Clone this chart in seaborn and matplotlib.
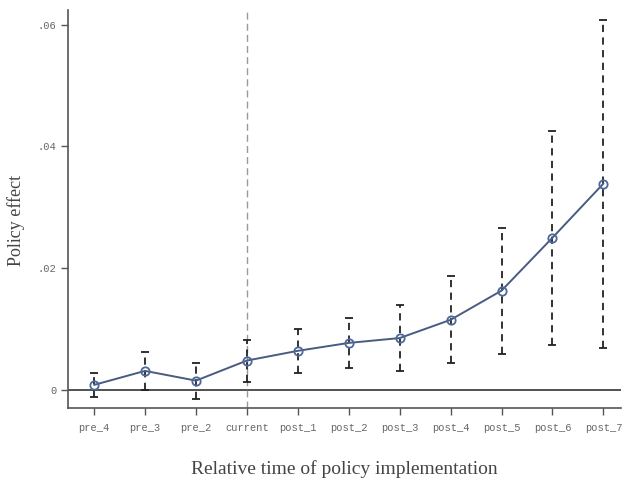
import numpy as np
import pandas as pd
import matplotlib
matplotlib.use("Agg")
import matplotlib.pyplot as plt
import seaborn as sns

periods = ["pre_4", "pre_3", "pre_2", "current", "post_1", "post_2",
           "post_3", "post_4", "post_5", "post_6", "post_7"]
coef = [0.0008, 0.0031, 0.0015, 0.0048, 0.0064, 0.0077,
        0.0085, 0.0115, 0.0163, 0.0250, 0.0339]
ci_low = [-0.0012, 0.0000, -0.0015, 0.0013, 0.0028, 0.0036,
          0.0031, 0.0044, 0.0059, 0.0074, 0.0069]
ci_high = [0.0028, 0.0062, 0.0044, 0.0082, 0.0100, 0.0118,
           0.0140, 0.0187, 0.0266, 0.0426, 0.0608]

df = pd.DataFrame({"period": periods, "coef": coef, "lo": ci_low, "hi": ci_high})
df["x"] = np.arange(len(df))

sns.set_style("ticks")
fig = plt.figure(figsize=(6.25, 4.8), dpi=100)
ax = fig.add_axes([0.109, 0.15, 0.885, 0.83])

# reference lines
ax.axhline(0, color="#333333", lw=1.2, zorder=1)
ax.axvline(3, color="#999999", lw=1.0, ls=(0, (5, 3)), zorder=1)

# confidence intervals
err = [df["coef"] - df["lo"], df["hi"] - df["coef"]]
eb = ax.errorbar(df["x"], df["coef"], yerr=err, fmt="none", ecolor="#222222",
                 elinewidth=1.3, capsize=3, capthick=1.3, zorder=2)
eb[2][0].set_linestyle((0, (4, 3)))

# point estimates
sns.lineplot(data=df, x="x", y="coef", ax=ax, color="#4a5a80", lw=1.4,
             marker="o", markersize=6, markerfacecolor="none",
             markeredgecolor="#4a6a9a", markeredgewidth=1.3, zorder=3)

ax.set_xlim(-0.51, 10.35)
ax.set_ylim(-0.0030, 0.0625)
ax.set_xticks(df["x"])
ax.set_xticklabels(periods, family="Liberation Mono", fontsize=7.5, color="#666666")
ax.set_yticks([0, 0.02, 0.04, 0.06])
ax.set_yticklabels(["0", ".02", ".04", ".06"], family="Liberation Mono",
                   fontsize=7.5, color="#666666")
ax.tick_params(axis="both", length=5, color="#555555", width=1)
ax.tick_params(axis="x", pad=6)

sns.despine(ax=ax)
for s in ["left", "bottom"]:
    ax.spines[s].set_color("#555555")
    ax.spines[s].set_linewidth(1.2)

ax.set_xlabel("Relative time of policy implementation", family="Liberation Serif",
              fontsize=14, color="#444444", labelpad=19)
ax.set_ylabel("Policy effect", family="Liberation Serif", fontsize=13,
              color="#444444")
ax.yaxis.set_label_coords(-0.078, 0.47)

fig.savefig("out.png", dpi=100)
